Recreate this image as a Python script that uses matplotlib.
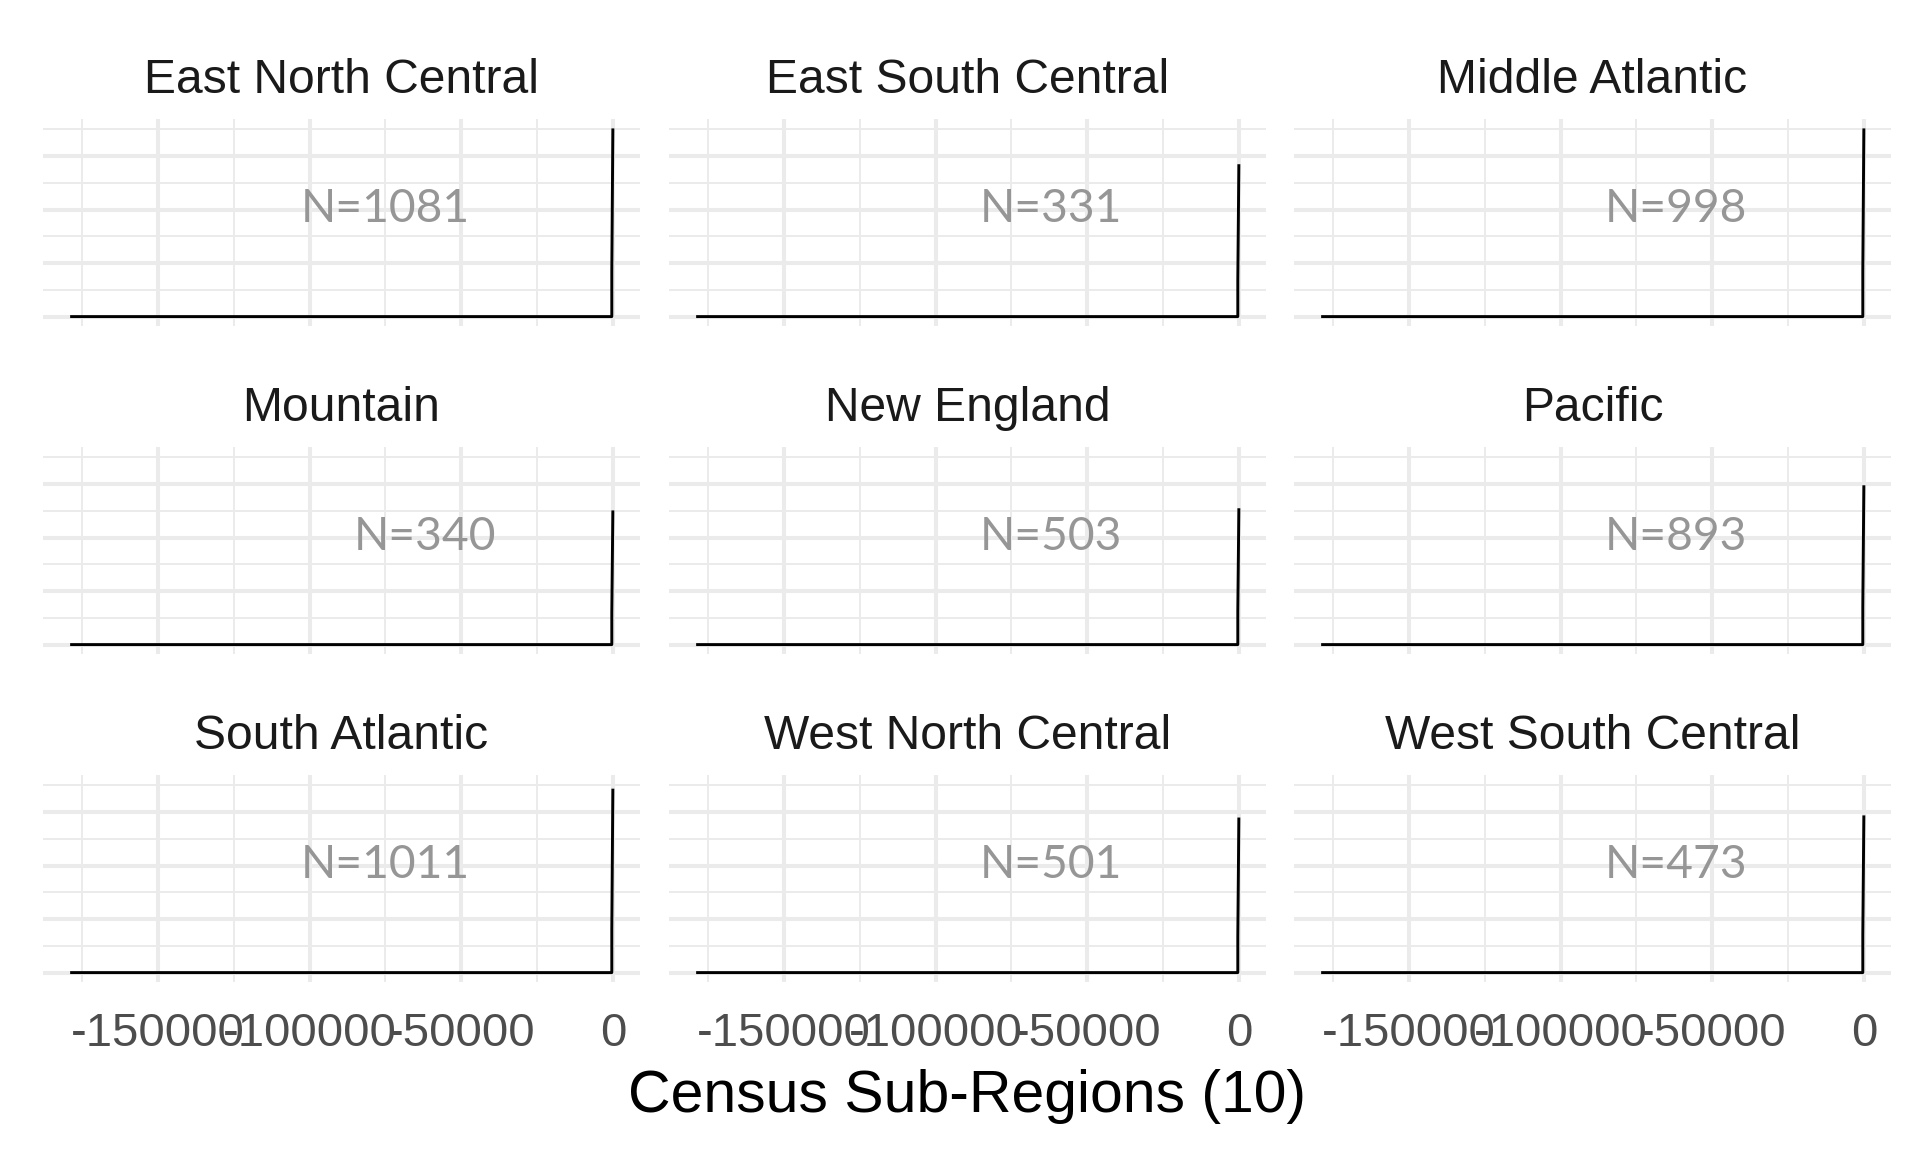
import matplotlib
matplotlib.use("Agg")
import matplotlib.pyplot as plt

# ---- data ----
regions = ["East North Central", "East South Central", "Middle Atlantic",
           "Mountain", "New England", "Pacific",
           "South Atlantic", "West North Central", "West South Central"]
n_obs = [1081, 331, 998, 340, 503, 893, 1011, 501, 473]
# density curve: shared x support, per-region heights (relative units, major grid step = 1)
curve_x = [-179000, -350, -350, 0]
jog_y = [0.84, 0.68, 0.84, 0.59, 0.62, 0.71, 0.81, 0.67, 0.70]
peak_y = [3.52, 2.85, 3.52, 2.51, 2.55, 2.98, 3.44, 2.90, 2.94]
x_major = [-150000, -100000, -50000, 0]
x_minor = [-175000, -125000, -75000, -25000]
x_tick_labels = ["-150000", "-100000", "-50000", "0"]
y_major = [0, 1, 2, 3]
y_minor = [0.5, 1.5, 2.5, 3.5]
n_label_x = [-75000, -62000, -62000, -62000, -62000, -62000, -75000, -62000, -62000]
n_label_y = 2.02
x_title = "Census Sub-Regions (10)"

# ---- layout ----
W, H = 1920, 1152
fig = plt.figure(figsize=(9.6, 5.76), dpi=200)
fig.patch.set_facecolor("white")

col_left = [43, 669, 1294]
panel_w = 597
row_top = [119, 447, 775]
panel_h = 207

xmin, xmax = min(curve_x), max(curve_x)
xpad = 0.05 * (xmax - xmin)
ymax = max(peak_y)
ypad = 0.05 * ymax

grid_c = "#EBEBEB"
txt_font = ["Liberation Sans", "DejaVu Sans"]

for i, name in enumerate(regions):
    r, c = divmod(i, 3)
    left = col_left[c] / W
    bottom = 1 - (row_top[r] + panel_h) / H
    ax = fig.add_axes([left, bottom, panel_w / W, panel_h / H])
    ax.set_facecolor("white")
    for s in ax.spines.values():
        s.set_visible(False)
    ax.set_xlim(xmin - xpad, xmax + xpad)
    ax.set_ylim(0 - ypad, ymax + ypad)
    ax.set_xticks(x_major)
    ax.set_xticks(x_minor, minor=True)
    ax.set_yticks(y_major)
    ax.set_yticks(y_minor, minor=True)
    ax.set_axisbelow(True)
    ax.grid(which="major", color=grid_c, lw=1.45)
    ax.grid(which="minor", color=grid_c, lw=0.72)
    ax.tick_params(which="both", length=0, labelleft=False)
    if r == 2:
        ax.set_xticklabels(x_tick_labels, fontfamily=txt_font, fontsize=17.0,
                           color="#4D4D4D")
        ax.tick_params(axis="x", pad=10.8)
    else:
        ax.tick_params(axis="x", labelbottom=False)

    cy = [0, 0, jog_y[i], peak_y[i]]
    ax.plot(curve_x, cy, color="black", lw=1.05, solid_capstyle="butt")

    ax.text(n_label_x[i], n_label_y, f"N={n_obs[i]}", ha="center", va="center",
            fontsize=16.6, color="#969696", family=["Lato", "DejaVu Sans"])

    ax.text(0.5, 1 + 26 / panel_h, name, transform=ax.transAxes,
            ha="center", va="baseline", fontsize=17.3, color="#1A1A1A",
            family=txt_font)

fig.text(967 / W, 1 - 1112 / H, x_title, ha="center", va="baseline",
         fontsize=21.2, color="black", family=txt_font)

fig.savefig("out.png", dpi=200, facecolor="white")
